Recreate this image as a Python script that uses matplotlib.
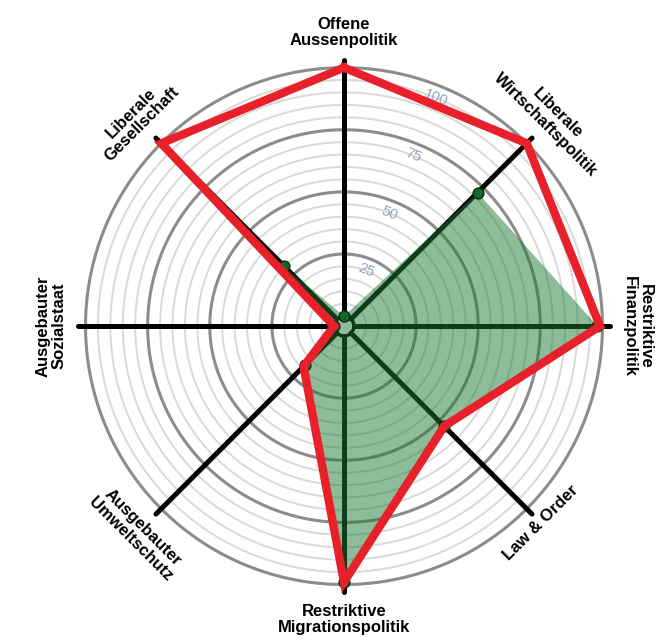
import numpy as np
import matplotlib
matplotlib.use("Agg")
from matplotlib import pyplot as plt
from matplotlib.patches import Circle

# axes, clockwise from the top
categories = ["Offene\nAussenpolitik", "Liberale\nWirtschaftspolitik", "Restriktive\nFinanzpolitik",
              "Law & Order", "Restriktive\nMigrationspolitik", "Ausgebauter\nUmweltschutz",
              "Ausgebauter\nSozialstaat", "Liberale\nGesellschaft"]
red_values = [100, 100, 99, 53, 99, 19, 0, 100]
green_values = [0, 72, 98, 53, 99, 18, 0, 30]
tick_values = [25, 50, 75, 100]

plt.rcParams['font.family'] = ['Liberation Sans', 'DejaVu Sans']

fig = plt.figure(figsize=(6.7, 6.4), dpi=100)
ax = fig.add_axes([0.1164, 0.075, 0.794, 0.831], projection='polar')
ax.set_theta_zero_location('N')
ax.set_theta_direction(-1)
rmax, rorig = 103, 4
ax.set_ylim(0, rmax)
ax.set_rorigin(-rorig)
ax.grid(False)
ax.spines['polar'].set_visible(False)
ax.set_xticks([])
ax.set_yticks([])
ax.patch.set_alpha(0)

n = len(categories)
angles = np.arange(n) * 2 * np.pi / n
full = np.linspace(0, 2 * np.pi, 361)

# rings
for r in range(5, 101, 5):
    if r % 25 == 0:
        ax.plot(full, np.full_like(full, r), color='#8c8c8c', lw=2.2, zorder=2)
    else:
        ax.plot(full, np.full_like(full, r), color='#d9d9d9', lw=1.4, zorder=1)
ax.plot(full, np.zeros_like(full), color='black', lw=2.5, zorder=3, clip_on=False)

# spokes
for a in angles:
    ax.plot([a, a], [0, rmax], color='black', lw=3.6, solid_capstyle='round', zorder=3, clip_on=False)

# scale labels
tick_angle = np.deg2rad(22)
for v in tick_values:
    ax.text(tick_angle, v - 5, str(v), color='#93a2b8', fontsize=10.5, rotation=-22,
            ha='center', va='center', rotation_mode='anchor', zorder=4)

# green party (filled)
ga = np.append(angles, angles[0])
gv = np.append(green_values, green_values[0])
ax.fill(ga, gv, color='#1f7a34', alpha=0.5, lw=0, zorder=5)
hole = Circle((0.5, 0.5), 0.5 * rorig / (rmax + rorig), transform=ax.transAxes,
              facecolor='#1f7a34', alpha=0.5, lw=0, zorder=5, clip_on=False)
ax.add_patch(hole)
ax.plot(angles, green_values, 'o', color='#13692a', mec='#0a2e12', ms=7.8, mew=1, zorder=6, clip_on=False)

# red party (outline)
rv = np.append(red_values, red_values[0])
ax.plot(ga, rv, color='#e8202a', lw=6, solid_joinstyle='miter', zorder=7, clip_on=False)

# axis labels
for a, lab in zip(angles, categories):
    deg = np.rad2deg(a)
    rot = -deg
    if 90 < deg < 270:
        rot += 180
    if deg == 270:
        rot = 90
    r = 108 if '\n' not in lab else 114
    ax.text(a, r, lab, fontsize=12, fontweight='bold', ha='center', va='center',
            rotation=rot, rotation_mode='anchor', linespacing=1.1, clip_on=False)

fig.savefig('out.png', dpi=100)
